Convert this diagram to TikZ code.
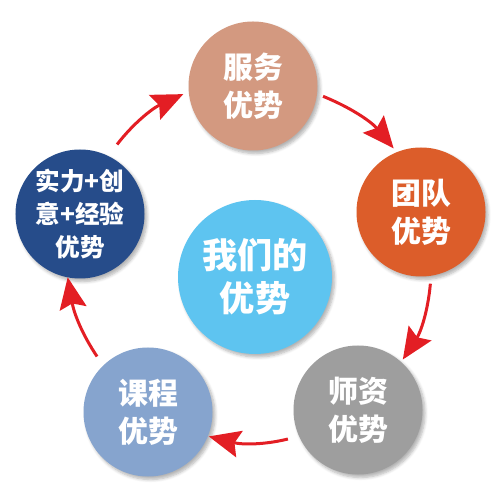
\documentclass[tikz,border=0pt]{standalone}
\usepackage{fontspec}
\newfontfamily\cjk{Noto Sans CJK SC}
\usetikzlibrary{arrows.meta,shadows.blur}
\definecolor{advtan}{HTML}{D39980}
\definecolor{advorange}{HTML}{DC5D2A}
\definecolor{advgray}{HTML}{9E9E9E}
\definecolor{advsteel}{HTML}{86A4CE}
\definecolor{advnavy}{HTML}{264C8A}
\definecolor{advsky}{HTML}{5EC4F0}
\definecolor{advred}{HTML}{E31E24}

\begin{document}
\begin{tikzpicture}[
  x=0.2mm,y=0.2mm,
  B/.style={circle,inner sep=0pt,outer sep=0pt,align=center,text=white,
            minimum size=25.8mm,
            font=\cjk\bfseries\fontsize{17}{21.5}\selectfont,
            blur shadow={shadow xshift=0.5mm,shadow yshift=-0.6mm,
                         shadow blur steps=6,shadow opacity=30}},
  S/.style={B,font=\cjk\bfseries\fontsize{14}{19}\selectfont},
  H/.style={B,minimum size=30.8mm,
            font=\cjk\bfseries\fontsize{20}{24.5}\selectfont},
  ar/.style={-{Stealth[length=6.3mm,width=5.4mm,inset=1mm]},
             line width=0.6mm,advred}
]
\useasboundingbox (0,0) rectangle (500,500);

\node[H,fill=advsky](Core) at (255,223){我们的\\优势};
\node[B,fill=advtan](Serv) at (253,414){服务\\优势};
\node[B,fill=advorange](Team) at (421,288){团队\\优势};
\node[B,fill=advgray](Tutor) at (358,90){师资\\优势};
\node[B,fill=advsteel](Course) at (148,88){课程\\优势};
\node[S,fill=advnavy](Skill) at (80,286){实力+创\\意+经验\\优势};

\draw[ar,shorten <=2.9mm,shorten >=1.2mm](Skill.64) to[bend left=14] (Serv.185);
\draw[ar,shorten <=1.3mm,shorten >=1mm](Serv.-7) to[bend left=14] (Team.112);
\draw[ar,shorten <=1.6mm,shorten >=0.6mm](Team.-81) to[bend left=14] (Tutor.48);
\draw[ar,shorten <=2.3mm,shorten >=0.2mm](Tutor.204) to[bend left=14] (Course.-22);
\draw[ar,shorten <=2.2mm](Course.134) to[bend left=12] (Skill.-101);
\end{tikzpicture}
\end{document}
